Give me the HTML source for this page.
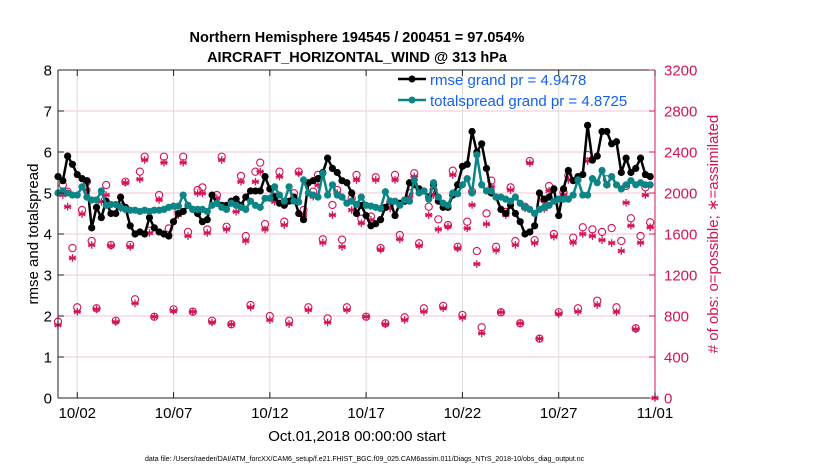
<!DOCTYPE html>
<html><head><meta charset="utf-8">
<style>
html,body{margin:0;padding:0;background:#fff;}
svg{display:block;font-family:"Liberation Sans",Arial,sans-serif;}
</style></head>
<body>
<svg id="chart" width="830" height="470" viewBox="0 0 830 470" xmlns="http://www.w3.org/2000/svg">
  <rect x="0" y="0" width="830" height="470" fill="#fff"/>
  <text x="357" y="42" text-anchor="middle" font-size="14.5" font-weight="bold">Northern Hemisphere 194545 / 200451 = 97.054%</text>
  <text x="357" y="62" text-anchor="middle" font-size="14.5" font-weight="bold">AIRCRAFT_HORIZONTAL_WIND @ 313 hPa</text>
  <g id="grid"></g>
  <g id="marks"></g>
  <g id="axes"></g>
  <text transform="translate(38,234) rotate(-90)" text-anchor="middle" font-size="15">rmse and totalspread</text>
  <text transform="translate(718,234) rotate(-90)" text-anchor="middle" font-size="15" fill="#d4145a"># of obs: o=possible; ∗=assimilated</text>
  <text x="357" y="441" text-anchor="middle" font-size="15">Oct.01,2018 00:00:00 start</text>
  <text x="145" y="461" font-size="7">data file: /Users/raeder/DAI/ATM_forcXX/CAM6_setup/f.e21.FHIST_BGC.f09_025.CAM6assim.011/Diags_NTrS_2018-10/obs_diag_output.nc</text>
  <g id="legend">
    <line x1="398" y1="79" x2="426" y2="79" stroke="#000" stroke-width="2.5"/>
    <circle cx="412" cy="79" r="3.5" fill="#000"/>
    <text x="430" y="85" font-size="15" fill="#1560f0">rmse grand pr = 4.9478</text>
    <line x1="398" y1="100" x2="426" y2="100" stroke="#0b8585" stroke-width="2.5"/>
    <circle cx="412" cy="100" r="3.5" fill="#0b8585"/>
    <text x="430" y="106" font-size="15" fill="#1560f0">totalspread grand pr = 4.8725</text>
  </g>
</svg>
<script>
const xTickLabels = ["10/02","10/07","10/12","10/17","10/22","10/27","11/01"];
const xTickDays = [1,6,11,16,21,26,31];
const yLeftTicks = [0,1,2,3,4,5,6,7,8];
const yRightTicks = [0,400,800,1200,1600,2000,2400,2800,3200];
const rmse = [5.4,5.3,5.9,5.7, 5.45,5.35,5.3,4.15, 4.65,4.4,4.8,4.5, 4.5,4.9,4.65,4.2, 4.0,4.05,4.0,4.4, 4.15,4.05,4.0,3.95, 4.3,4.5,4.55,4.7, 4.6,4.5,4.3,4.35,
 4.95,4.75,4.7,4.7, 4.8,4.85,4.7,4.9, 5.05,5.05,5.05,5.4, 5.1,4.9,4.75,4.7, 4.8,4.9,4.5,4.35, 5.25,5.3,5.35,5.5, 5.85,5.6,5.5,5.3, 5.25,5.0,4.5,4.7,
 4.45,4.2,4.25,4.35, 4.65,4.8,4.45,4.75, 4.8,5.25,5.2,5.1, 5.05,4.9,5.2,4.8, 4.65,4.65,4.95,5.2, 5.65,5.7,6.5,6.0, 6.2,5.6,5.0,4.9, 4.6,4.5,4.7,4.5,
 4.3,4.0,4.05,4.2, 5.0,4.85,4.9,5.1, 4.45,5.1,5.55,5.3, 5.4,5.45,6.65,5.8, 5.9,6.5,6.5,6.2, 6.25,5.5,5.85,5.5, 5.6,5.85,5.45,5.4];
const spread = [5.0,5.05,5.0,4.95, 4.95,5.15,4.9,4.83, 4.83,5.05,4.7,4.72, 4.72,4.65,4.6,4.58, 4.58,4.55,4.58,4.55, 4.58,4.58,4.6,4.65, 4.68,4.68,4.95,4.7, 4.6,4.6,4.6,4.55,
 4.7,4.75,4.65,4.6, 4.75,4.7,4.65,4.6, 4.8,4.7,4.65,4.87, 4.87,5.15,4.95,4.8, 5.15,4.8,4.78,5.32, 5.0,4.95,4.9,5.48, 4.95,5.2,4.95,4.9, 4.75,4.8,4.72,4.9,
 4.7,4.68,4.65,4.62, 5.03,4.8,4.8,4.7, 4.83,4.8,5.32,5.0, 5.05,4.85,5.25,4.9, 4.75,4.7,5.0,4.98, 5.2,5.35,5.0,5.93, 5.2,5.05,5.05,4.9, 4.9,4.85,4.8,4.9,
 4.75,4.65,4.6,4.5, 4.6,4.65,4.7,4.8, 4.85,4.85,4.85,4.95, 5.32,4.95,4.95,5.35, 5.25,5.55,5.2,5.4, 5.2,5.1,5.2,5.3, 5.2,5.25,5.2,5.2];
const possible = [744,2078,2013,1463, 885,1834,2110,1532, 875,1948,2078,1493, 754,1866,2110,1493, 963,2208,2354,1632, 793,1980,2354,1655, 865,1818,2354,1620, 842,2029,2055,1645,
 754,1980,2354,1671, 719,1899,2166,1580, 907,2208,2296,1697, 800,1964,2208,1720, 754,1997,2208,1834, 885,2013,2176,1548, 777,1883,2029,1545, 885,1948,2176,1750,
 793,1770,2153,1463, 729,1899,2176,1590, 787,1997,2192,1509, 875,1866,2029,1743, 898,1687,2218,1475, 810,1720,2013,1434, 690,1801,2120,1475, 836,1815,2055,1530,
 729,1866,2312,1540, 579,1932,2068,1600, 836,2006,2172,1564, 875,1665,2371,1645, 949,1620,2134,1658, 885,1532,2068,1753, 680,1580,2055,1714, 0];
const assimilated = [712,1980,1866,1366, 842,1795,2029,1493, 865,1915,1980,1483, 742,1850,2100,1475, 924,2134,2322,1610, 793,1932,2296,1590, 849,1785,2296,1580, 842,1997,1997,1610,
 737,1950,2322,1645, 719,1818,2110,1532, 885,2110,2208,1645, 761,1915,2160,1687, 721,1948,2192,1785, 858,1964,2078,1515, 737,1785,1997,1475, 858,1834,2127,1704,
 793,1737,2127,1447, 719,1850,2127,1548, 761,1964,2160,1483, 842,1785,1980,1645, 875,1671,2176,1460, 784,1655,1883,1307, 631,1697,2062,1440, 836,1785,2029,1493,
 729,1850,2292,1512, 579,1844,2022,1574, 820,1980,2127,1515, 842,1600,2312,1580, 907,1541,2078,1512, 839,1434,1905,1681, 670,1515,1980,1665, 0];

const NS="http://www.w3.org/2000/svg";
const X0=58, X1=655, Y0=398, Y1=70;
const dayPx=(X1-X0)/31;
function xs(d){return X0+d*dayPx;}
function yl(v){return Y0-(v/8)*(Y0-Y1);}
function yr(c){return Y0-(c/3200)*(Y0-Y1);}
function mk(tag,attrs,parent){const e=document.createElementNS(NS,tag);for(const k in attrs)e.setAttribute(k,attrs[k]);parent.appendChild(e);return e;}
const grid=document.getElementById('grid'), marks=document.getElementById('marks'), axes=document.getElementById('axes');
const MAG="#d4145a";

yRightTicks.forEach((t,i)=>{ if(i===0||i===yRightTicks.length-1) return;
  const l=mk('line',{x1:X0,x2:X1,y1:yr(t),y2:yr(t),stroke:"#f4c6d6","stroke-width":1},grid);
  
  
});
xTickDays.forEach(d=>{ if(d>=31) return;
  const l=mk('line',{x1:xs(d),x2:xs(d),y1:Y1,y2:Y0,stroke:"#dcdcdc","stroke-width":1},grid);
  
  
});

function star(cx,cy,r,parent){
  let d="";
  for(let k=0;k<3;k++){const a=Math.PI/2+k*Math.PI/3;const dx=r*Math.cos(a),dy=r*Math.sin(a);d+=`M${cx-dx},${cy-dy}L${cx+dx},${cy+dy}`;}
  d+=`M${cx-r},${cy}L${cx+r},${cy}`;
  return mk('path',{d:d,stroke:MAG,"stroke-width":1.3,fill:"none"},parent);
}
possible.forEach((c,i)=>{
  if(i>=possible.length-1) return;
  const ci=mk('circle',{cx:xs(i/4),cy:yr(c),r:3.6,fill:"none",stroke:MAG,"stroke-width":1.1},marks);
  
  
});
assimilated.forEach((c,i)=>{
  const s=star(xs(i/4),yr(c),3.8,marks);
  
  
});

function series(arr,color,name){
  const pts=arr.map((v,i)=>xs(i/4)+","+yl(v)).join(" ");
  const pl=mk('polyline',{points:pts,fill:"none",stroke:color,"stroke-width":2.5,"stroke-linejoin":"round"},marks);
  
  
  arr.forEach((v,i)=>{
    const c=mk('circle',{cx:xs(i/4),cy:yl(v),r:3.6,fill:color},marks);
    
    
  });
}
series(rmse,"#000","rmse");
series(spread,"#0b8585","totalspread");

mk('line',{x1:X0,x2:X1,y1:Y1,y2:Y1,stroke:"#222","stroke-width":1},axes);
mk('line',{x1:X0,x2:X1,y1:Y0,y2:Y0,stroke:"#222","stroke-width":1},axes);
mk('line',{x1:X0,x2:X0,y1:Y1,y2:Y0,stroke:"#222","stroke-width":1},axes);
mk('line',{x1:X1,x2:X1,y1:Y1,y2:Y0,stroke:MAG,"stroke-width":1},axes);
yLeftTicks.forEach(t=>{
  mk('line',{x1:X0,x2:X0+6,y1:yl(t),y2:yl(t),stroke:"#222"},axes);
  const tx=mk('text',{x:X0-6,y:yl(t)+5.5,"text-anchor":"end","font-size":15},axes);
  tx.textContent=t;
  
  
});
yRightTicks.forEach(t=>{
  mk('line',{x1:X1-6,x2:X1,y1:yr(t),y2:yr(t),stroke:MAG},axes);
  const tx=mk('text',{x:X1+9,y:yr(t)+5.5,"font-size":15,fill:MAG},axes);
  tx.textContent=t;
  
  
});
xTickDays.forEach((d,i)=>{
  mk('line',{x1:xs(d),x2:xs(d),y1:Y0,y2:Y0-6,stroke:"#222"},axes);
  mk('line',{x1:xs(d),x2:xs(d),y1:Y1,y2:Y1+6,stroke:"#222"},axes);
  const tx=mk('text',{x:xs(d),y:Y0+20,"text-anchor":"middle","font-size":15},axes);
  tx.textContent=xTickLabels[i];
  
  
});
</script>
</body></html>
